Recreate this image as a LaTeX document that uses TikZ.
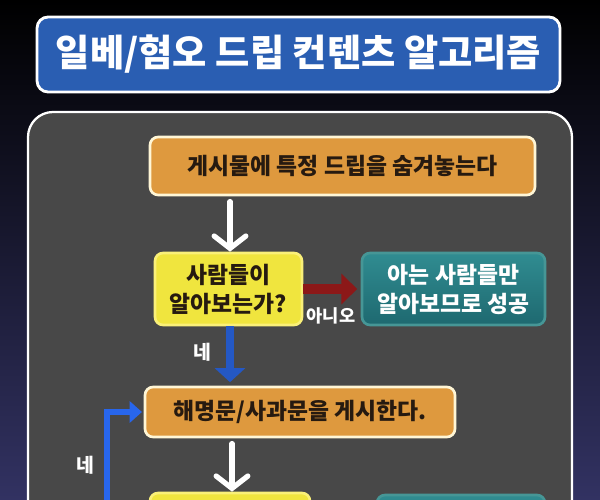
\documentclass[tikz,border=0pt]{standalone}
\usepackage{fontspec}
\setmainfont{Noto Sans CJK KR}
\usetikzlibrary{arrows.meta}

\definecolor{titleblue}{RGB}{42,94,178}
\definecolor{panelgray}{RGB}{72,72,72}
\definecolor{boxorange}{RGB}{222,153,62}
\definecolor{boxrim}{RGB}{255,246,214}
\definecolor{askyellow}{RGB}{240,229,62}
\definecolor{askrim}{RGB}{250,240,120}
\definecolor{donetop}{RGB}{48,140,145}
\definecolor{donebot}{RGB}{30,105,112}
\definecolor{donerim}{RGB}{70,150,150}
\definecolor{boxtext}{RGB}{38,26,16}
\definecolor{noarrow}{RGB}{140,24,24}
\definecolor{yesarrow}{RGB}{36,88,196}
\definecolor{looparrow}{RGB}{40,102,236}
\definecolor{skytop}{RGB}{0,0,0}
\definecolor{skymid}{RGB}{12,12,40}
\definecolor{skybot}{RGB}{50,50,98}

\begin{document}
\begin{tikzpicture}
	[x=0.02cm,y=-0.02cm,%%%%%%%%%%%%%%%%%%%%%%%%%%%%%%
	box/.style={rectangle,rounded corners=0.16cm,line width=1.5pt,align=center,inner sep=0pt,
		font=\fontsize{13}{16.5}\selectfont\bfseries},
	stepbox/.style={box,draw=boxrim,fill=boxorange,text=boxtext},
	askbox/.style={box,draw=askrim,fill=askyellow,text=boxtext},
	donebox/.style={box,draw=donerim,top color=donetop,bottom color=donebot,text=white},
	answer/.style={text=white,font=\fontsize{11}{12}\selectfont\bfseries,inner sep=0pt},
	whitearrow/.style={white,line width=3pt,line cap=round,shorten <=3pt,
		-{Straight Barb[length=7pt,width=18pt,line cap=round]}},
	]%%%%%%%%%%%%%%%%%%%%%%%%%%%%%%
	
	\clip (0,0) rectangle (600,500);
	\fill[top color=skytop,middle color=skymid,bottom color=skybot] (0,0) rectangle (600,500);
	
	% title
	\node[rectangle,rounded corners=0.22cm,draw=white,line width=1.6pt,fill=titleblue,
		minimum width=10.46cm,minimum height=1.5cm,text=white,
		font=\fontsize{21.2}{25}\selectfont\bfseries] (title) at (298.5,54.5) {일베/혐오 드립 컨텐츠 알고리즘};
	
	% panel
	\draw[white,line width=1.3pt,fill=panelgray,rounded corners=0.5cm] (28,112) rectangle (572,600);
	
	\node[stepbox,minimum width=7.7cm,minimum height=1.16cm] (hide) at (342.5,166) {게시물에 특정 드립을 숨겨놓는다};
	\node[askbox,minimum width=2.94cm,minimum height=1.44cm] (ask) at (228.5,289) {사람들이\\알아보는가?};
	\node[donebox,minimum width=3.66cm,minimum height=1.44cm] (win) at (453.5,289) {아는 사람들만\\알아보므로 성공};
	\node[stepbox,minimum width=6.2cm,minimum height=1.0cm] (sorry) at (300,412) {해명문/사과문을 게시한다.};
	\node[askbox,minimum width=3.2cm,minimum height=1.44cm] (ask2) at (230,529) {};
	\node[donebox,minimum width=3.36cm,minimum height=1.44cm] (win2) at (461,531) {};
	
	\coordinate (loopfoot) at (107,520);
	
	\draw[whitearrow] (hide.south -| 230,0) -- (ask.north -| 230,0);
	\draw[whitearrow] (sorry.south -| 232,0) -- (ask2.north -| 232,0);
	\draw[noarrow,line width=6pt,-{Triangle[length=9pt,width=17pt]}] (ask.east) -- ([xshift=-2pt]win.west);
	\draw[yesarrow,line width=4.5pt,-{Triangle[length=8pt,width=17pt]}] (ask.south -| 230,0) -- ([yshift=2pt]sorry.north -| 230,0);
	\draw[looparrow,line width=3pt,-{Triangle[length=7pt,width=12pt]}] (loopfoot) |- ([xshift=-1pt]sorry.west);
	
	\node[answer,font=\fontsize{10}{11}\selectfont\bfseries] (no) at (331,316) {아니오};
	\node[answer] (yes) at (202,352) {네};
	\node[answer] (yes2) at (85,465) {네};
	
\end{tikzpicture}
\end{document}
